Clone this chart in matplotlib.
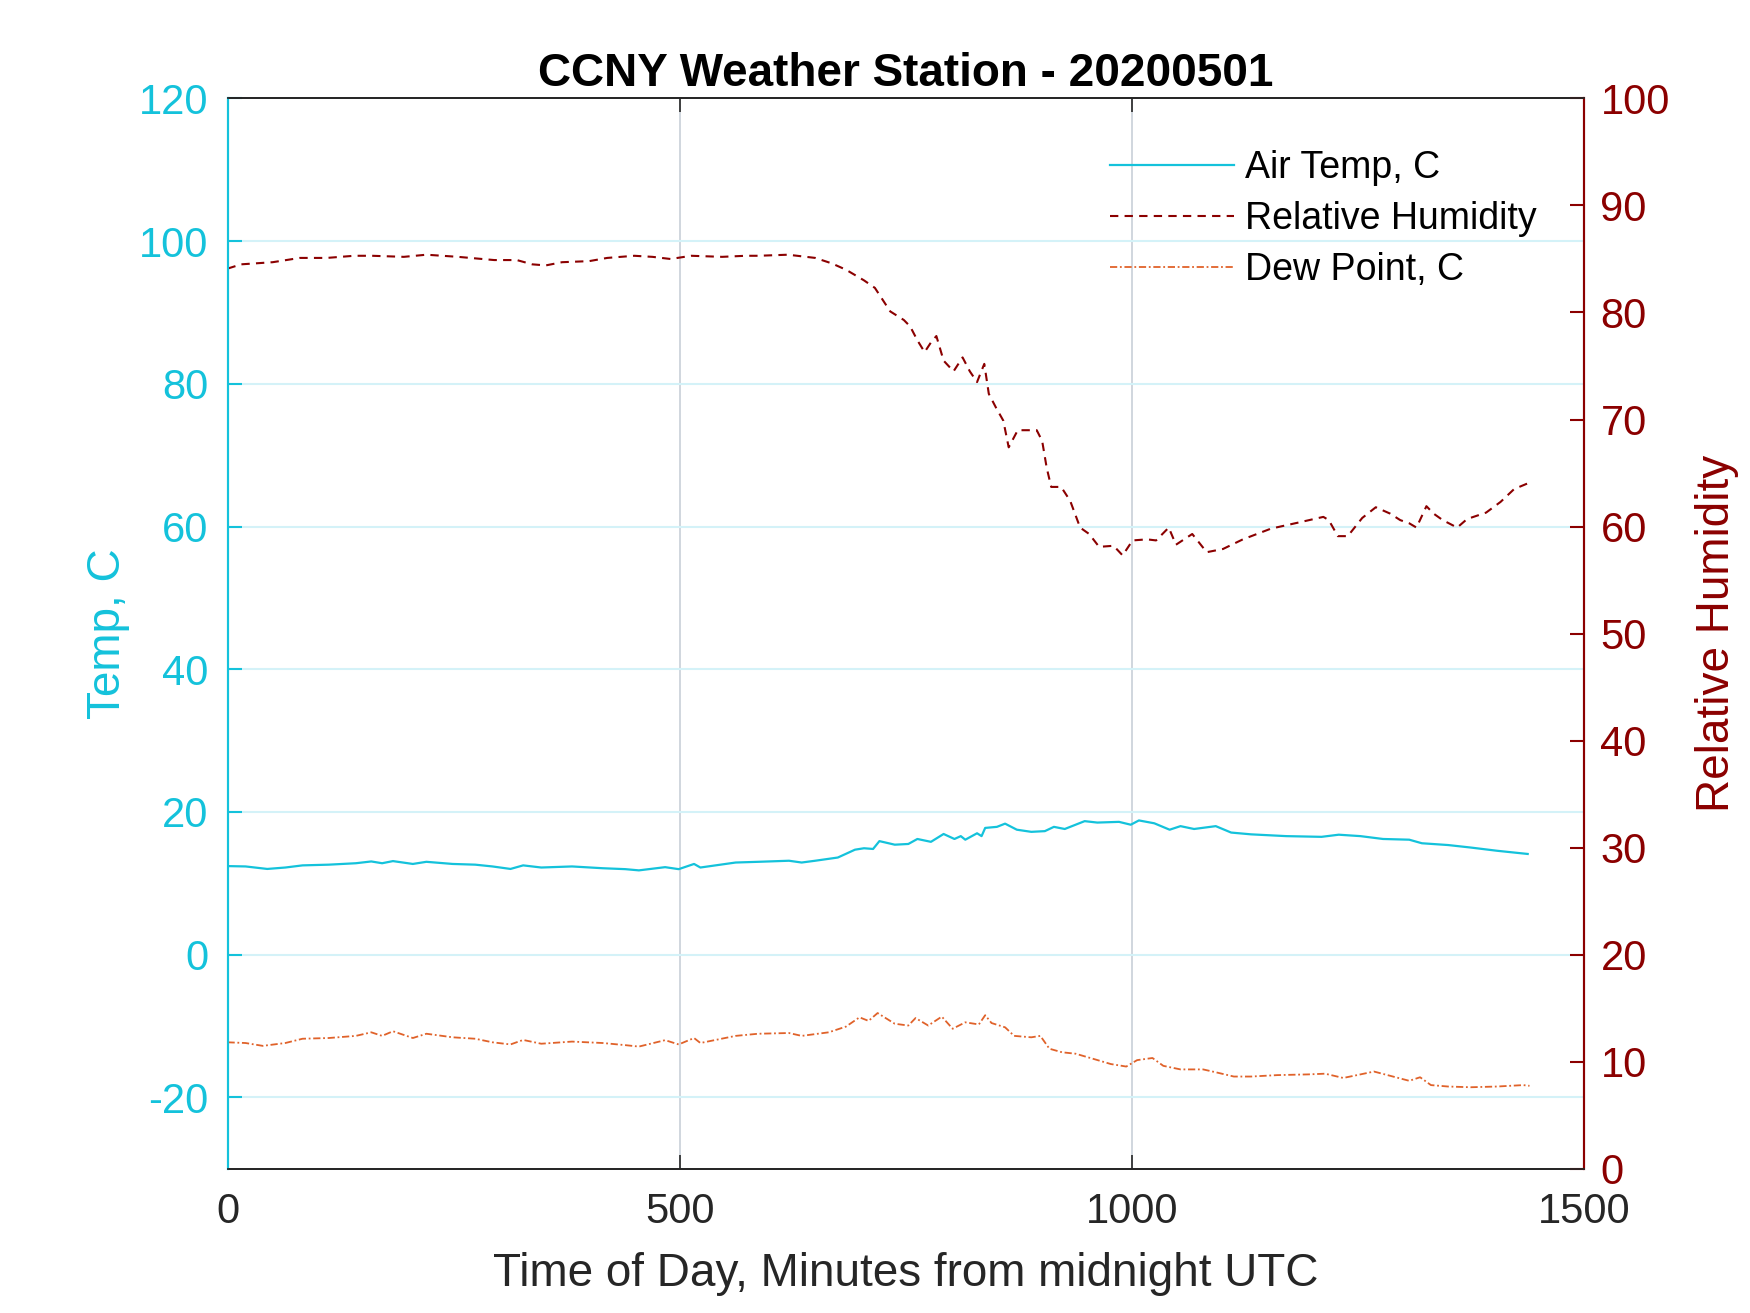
import numpy as np
import matplotlib.pyplot as plt

plt.rcParams['font.family'] = ['Liberation Sans', 'DejaVu Sans']
plt.rcParams['axes.unicode_minus'] = False

# minutes from midnight UTC
t_temp = [0, 20, 44, 64, 83, 112, 142, 159, 171, 183, 205, 220, 249, 274, 293,
          313, 327, 347, 381, 415, 440, 455, 484, 499, 516, 523, 562, 587, 621,
          635, 650, 675, 694, 704, 714, 721, 738, 753, 763, 778, 792, 804, 811,
          816, 829, 834, 838, 851, 860, 873, 889, 904, 914, 926, 948, 962, 986,
          999, 1008, 1025, 1042, 1054, 1069, 1093, 1110, 1132, 1171, 1210, 1229,
          1253, 1278, 1307, 1321, 1350, 1375, 1404, 1438]
air_temp = [12.4, 12.35, 12.0, 12.2, 12.5, 12.6, 12.8, 13.05, 12.8, 13.1, 12.7,
            13.0, 12.7, 12.6, 12.35, 12.0, 12.5, 12.2, 12.35, 12.1, 11.97, 11.8,
            12.25, 11.97, 12.7, 12.2, 12.9, 13.0, 13.15, 12.9, 13.15, 13.6, 14.7,
            14.9, 14.8, 15.9, 15.4, 15.5, 16.2, 15.8, 16.9, 16.2, 16.6, 16.1,
            17.0, 16.6, 17.75, 17.9, 18.35, 17.5, 17.2, 17.3, 17.9, 17.6, 18.7,
            18.5, 18.6, 18.2, 18.8, 18.4, 17.5, 18.0, 17.6, 18.0, 17.1, 16.85,
            16.6, 16.5, 16.8, 16.6, 16.2, 16.1, 15.6, 15.35, 15.0, 14.55, 14.1]

t_rh = [0, 15, 50, 80, 110, 140, 160, 195, 220, 255, 295, 320, 337, 352, 370,
        400, 420, 450, 470, 490, 513, 547, 573, 587, 620, 650, 668, 684, 704,
        716, 733, 748, 755, 763, 771, 778, 784, 792, 803, 813, 821, 829, 837,
        842, 850, 858, 864, 874, 885, 895, 901, 906, 911, 922, 932, 943, 953,
        964, 980, 990, 1001, 1017, 1027, 1041, 1049, 1067, 1083, 1101, 1123,
        1154, 1186, 1212, 1218, 1228, 1239, 1255, 1270, 1286, 1297, 1307, 1315,
        1326, 1334, 1344, 1360, 1371, 1392, 1408, 1423, 1440]
rel_hum = [84.1, 84.5, 84.7, 85.1, 85.1, 85.3, 85.3, 85.2, 85.4, 85.2, 84.9,
           84.9, 84.5, 84.4, 84.7, 84.8, 85.1, 85.3, 85.2, 85.0, 85.3, 85.2,
           85.3, 85.3, 85.4, 85.1, 84.6, 84.0, 83.0, 82.3, 80.1, 79.3, 78.7,
           77.4, 76.3, 77.2, 77.8, 75.5, 74.5, 75.8, 74.5, 73.5, 75.2, 72.4,
           71.1, 69.9, 67.4, 69.0, 69.0, 69.0, 68.0, 65.5, 63.7, 63.7, 62.4,
           59.9, 59.3, 58.1, 58.2, 57.3, 58.7, 58.8, 58.7, 59.9, 58.3, 59.3,
           57.6, 57.9, 58.8, 59.8, 60.4, 60.9, 60.6, 59.1, 59.1, 60.8, 61.8,
           61.2, 60.6, 60.3, 59.9, 61.9, 61.2, 60.6, 59.9, 60.7, 61.3, 62.3,
           63.5, 64.1]

t_dew = [0, 20, 39, 64, 83, 112, 142, 159, 171, 183, 205, 220, 249, 274, 293,
         313, 327, 347, 381, 415, 440, 455, 484, 499, 516, 523, 562, 587, 621,
         635, 665, 684, 699, 709, 719, 738, 753, 761, 775, 790, 802, 816, 831,
         838, 845, 860, 870, 889, 899, 909, 923, 938, 957, 977, 994, 1006, 1023,
         1035, 1054, 1079, 1093, 1113, 1132, 1161, 1195, 1214, 1234, 1253, 1268,
         1292, 1307, 1319, 1331, 1350, 1375, 1404, 1433, 1440]
dew_point = [-12.3, -12.4, -12.8, -12.4, -11.8, -11.7, -11.4, -10.9, -11.4,
             -10.75, -11.7, -11.1, -11.6, -11.8, -12.3, -12.6, -11.97, -12.5,
             -12.2, -12.4, -12.7, -12.9, -12.0, -12.6, -11.7, -12.4, -11.4,
             -11.1, -11.0, -11.4, -10.9, -10.1, -8.8, -9.3, -8.2, -9.7, -9.95,
             -8.9, -9.95, -8.7, -10.4, -9.5, -9.8, -8.5, -9.6, -10.2, -11.4,
             -11.6, -11.4, -13.2, -13.7, -13.9, -14.6, -15.35, -15.7, -14.8,
             -14.5, -15.6, -16.1, -16.1, -16.5, -17.1, -17.1, -16.9, -16.8,
             -16.7, -17.3, -16.8, -16.4, -17.2, -17.7, -17.2, -18.3, -18.5,
             -18.6, -18.5, -18.3, -18.4]

temp_ticks = [-20, 0, 20, 40, 60, 80, 100, 120]
rh_ticks = [0, 10, 20, 30, 40, 50, 60, 70, 80, 90, 100]
x_ticks = [0, 500, 1000, 1500]

cyan = '#14C2DB'
darkred = '#8B0000'
orange = '#E0622A'
dark = '#262626'

fig = plt.figure(figsize=(17.5, 13.13), dpi=100)
ax = fig.add_axes([0.13, 0.11, 0.775, 0.815])
ax2 = ax.twinx()

# grid like matlab: x grid gray, y grid in left axis colour
for xv in x_ticks[1:-1]:
    ax.axvline(xv, color='#c8d0d8', lw=1.2, zorder=0)
for yv in temp_ticks[:-1]:
    ax.axhline(yv, color='#d4f2f8', lw=1.5, zorder=0)

l1, = ax.plot(t_temp, air_temp, color=cyan, lw=1.6, label='Air Temp, C')
l3, = ax.plot(t_dew, dew_point, color=orange, lw=1.3,
              dashes=(4, 1.5, 1, 1.5), label='Dew Point, C')
l2, = ax2.plot(t_rh, rel_hum, color=darkred, lw=1.5, dashes=(4, 3),
               label='Relative Humidity')

ax.set_xlim(0, 1500)
ax.set_ylim(-30, 120)
ax2.set_ylim(0, 100)
ax.set_xticks(x_ticks)
ax.set_yticks(temp_ticks)
ax2.set_yticks(rh_ticks)

ax.tick_params(axis='x', direction='in', length=10, width=1.2, colors=dark,
               labelsize=30, pad=17, top=True)
ax.tick_params(axis='y', direction='in', length=10, width=1.5, colors=cyan,
               labelsize=30, pad=14)
ax2.tick_params(axis='y', direction='in', length=10, width=1.5, colors=darkred,
                labelsize=30, pad=12)

for a in (ax, ax2):
    a.spines['top'].set_color(dark)
    a.spines['bottom'].set_color(dark)
    a.spines['top'].set_linewidth(1.3)
    a.spines['bottom'].set_linewidth(1.3)
    a.spines['left'].set_color(cyan)
    a.spines['left'].set_linewidth(1.5)
    a.spines['right'].set_color(darkred)
    a.spines['right'].set_linewidth(1.5)

ax.set_xlabel('Time of Day, Minutes from midnight UTC', fontsize=33,
              color=dark, labelpad=14)
ax.set_ylabel('Temp, C', fontsize=33, color=cyan, labelpad=6)
ax2.set_ylabel('Relative Humidity', fontsize=33, color=darkred, labelpad=18)
ax.set_title('CCNY Weather Station - 20200501', fontsize=33,
             fontweight='bold', pad=9)

ax2.legend(handles=[l1, l2, l3], loc='upper right', frameon=False,
           fontsize=27, handlelength=3.3, handletextpad=0.3, labelspacing=0.4,
           bbox_to_anchor=(0.99, 0.983))

plt.savefig('out.png', dpi=100)
